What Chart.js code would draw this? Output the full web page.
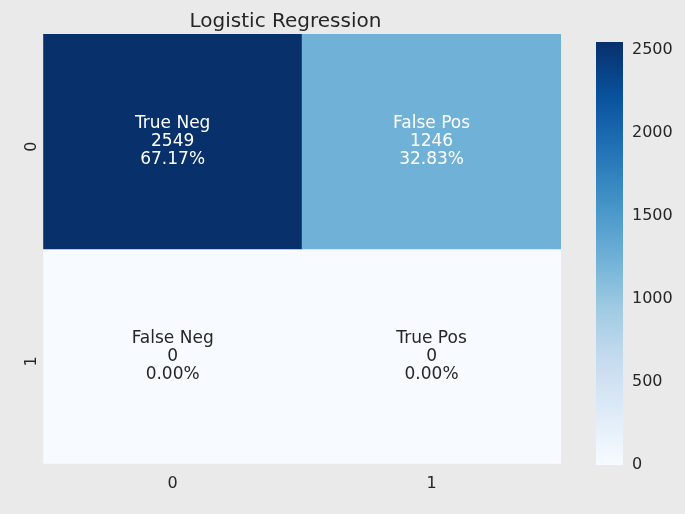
<!DOCTYPE html>
<html lang="en">
<head>
<meta charset="UTF-8">
<title>Logistic Regression</title>
<script src="https://cdn.jsdelivr.net/npm/chart.js"></script>
<style>
  body { margin: 0; background: #eaeaea; }
  #wrap { position: relative; width: 685px; height: 514px; }
  #heat { position: absolute; left: 0; top: 0; }
  #cbar { position: absolute; left: 560px; top: 0; }
</style>
</head>
<body>
<div id="wrap">
  <canvas id="heat" width="575" height="514"></canvas>
  <canvas id="cbar" width="125" height="514"></canvas>
</div>
<script>
// data
const xLabels = ['0', '1'];
const yLabels = ['0', '1'];
const cellNames = [['True Neg', 'False Pos'], ['False Neg', 'True Pos']];
const counts = [[2549, 1246], [0, 0]];
const percents = ['67.17%', '32.83%', '0.00%', '0.00%'];
const cbarTicks = [0, 500, 1000, 1500, 2000, 2500];

// seaborn "Blues" colormap stops
const blues = ['#f7fbff', '#deebf7', '#c6dbef', '#9ecae1', '#6baed6', '#4292c6', '#2171b5', '#08519c', '#08306b'];
const vmax = Math.max(...counts.flat());

function hex(h) { return [1, 3, 5].map(i => parseInt(h.substr(i, 2), 16)); }
function blueAt(t) {
    const p = Math.min(Math.max(t, 0), 1) * (blues.length - 1);
    const i = Math.min(Math.floor(p), blues.length - 2);
    const f = p - i, a = hex(blues[i]), b = hex(blues[i + 1]);
    return 'rgb(' + a.map((v, k) => Math.round(v + (b[k] - v) * f)).join(',') + ')';
}

const font = "'DejaVu Sans', sans-serif";

// one dataset per row; floating bars span [row, row+1] on a reversed linear y
const datasets = yLabels.map((_, r) => ({
    data: xLabels.map(() => [r, r + 1]),
    backgroundColor: counts[r].map(v => blueAt(v / vmax)),
    grouped: false,
    barPercentage: 1,
    categoryPercentage: 1,
    borderWidth: 0
}));

const cellText = {
    id: 'cellText',
    afterDatasetsDraw(chart) {
        const c = chart.ctx;
        c.save();
        c.font = '17px ' + font;
        c.textAlign = 'center';
        c.textBaseline = 'middle';
        chart.data.datasets.forEach((ds, r) => {
            chart.getDatasetMeta(r).data.forEach((bar, k) => {
                const cy = (bar.y + bar.base) / 2;
                c.fillStyle = counts[r][k] / vmax > 0.4 ? '#ffffff' : '#262626';
                const lines = [cellNames[r][k], String(counts[r][k]), percents[r * 2 + k]];
                lines.forEach((s, i) => c.fillText(s, bar.x, cy + (i - 1) * 18));
            });
        });
        c.restore();
    }
};

new Chart(document.getElementById('heat'), {
    type: 'bar',
    data: { labels: xLabels, datasets },
    options: {
        responsive: false,
        animation: false,
        layout: { padding: { top: 0, right: 14, left: 10, bottom: 17 } },
        plugins: {
            legend: { display: false },
            tooltip: { enabled: false },
            title: { display: true, text: 'Logistic Regression', color: '#262626',
                     font: { family: font, size: 20, weight: 'normal' }, padding: { top: 10, bottom: 0 } }
        },
        scales: {
            x: {
                grid: { display: false, drawTicks: true, tickLength: 6 },
                border: { display: false },
                ticks: { color: '#262626', font: { family: font, size: 16 }, padding: 4 }
            },
            y: {
                min: 0, max: 2, reverse: true,
                afterBuildTicks: ax => { ax.ticks = yLabels.map((_, i) => ({ value: i + 0.5 })); },
                grid: { display: false },
                border: { display: false },
                ticks: { color: '#262626', font: { family: font, size: 16 }, maxRotation: 90, minRotation: 90,
                         callback: (v) => yLabels[Math.floor(v)] }
            }
        }
    },
    plugins: [cellText]
});

new Chart(document.getElementById('cbar'), {
    type: 'bar',
    data: {
        labels: [''],
        datasets: [{
            data: [[0, vmax]],
            barPercentage: 1,
            categoryPercentage: 1,
            borderWidth: 0,
            backgroundColor: (ctx) => {
                const a = ctx.chart.chartArea;
                if (!a) return blues[4];
                const g = ctx.chart.ctx.createLinearGradient(0, a.bottom, 0, a.top);
                blues.forEach((b, i) => g.addColorStop(i / (blues.length - 1), b));
                return g;
            }
        }]
    },
    options: {
        responsive: false,
        animation: false,
        layout: { padding: { top: 42, bottom: 49, left: 36, right: 0 } },
        plugins: { legend: { display: false }, tooltip: { enabled: false } },
        scales: {
            x: { display: false },
            y: {
                position: 'right', min: 0, max: vmax, afterFit: ax => { ax.width = 62; },
                afterBuildTicks: ax => { ax.ticks = cbarTicks.map(v => ({ value: v })); },
                grid: { display: false, drawTicks: true, tickLength: 5 },
                border: { display: false },
                ticks: { color: '#262626', font: { family: font, size: 16 }, padding: 4,
                         callback: v => String(v) }
            }
        }
    }
});
</script>
</body>
</html>
